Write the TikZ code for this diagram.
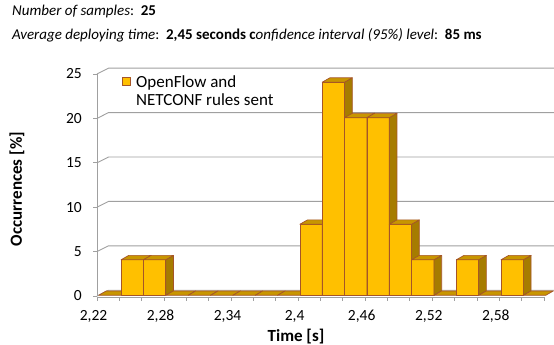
\documentclass[tikz,border=0pt]{standalone}
\usepackage{fontspec}
\setmainfont{Carlito}
\definecolor{barfront}{RGB}{255,192,0}
\definecolor{barside}{RGB}{166,124,0}
\definecolor{bartop}{RGB}{200,150,0}
\definecolor{baredge}{RGB}{165,85,40}
\definecolor{gridgray}{RGB}{160,160,160}
\tikzset{
  gridline/.style={draw=gridgray, line width=0.9pt},
  axisline/.style={draw=gridgray, line width=0.9pt},
  face/.style={draw=baredge, line width=0.7pt, line join=round},
  ticklabel/.style={font=\fontsize{15.5}{17}\selectfont, inner sep=0pt},
  axistitle/.style={font=\fontsize{17}{19}\selectfont\bfseries, inner sep=0pt},
  legendtext/.style={font=\fontsize{17}{17}\selectfont, inner sep=0pt, align=left},
  titletext/.style={font=\fontsize{15}{16}\selectfont, inner sep=0pt, anchor=base west}
}
\begin{document}
\begin{tikzpicture}[x=1pt,y=-1pt]
\useasboundingbox (0,0) rectangle (554,345);
% plot geometry
\def\xo{97}      % left edge of the floor
\def\cw{22.35}   % category width
\def\yf{296}     % zero level at the value axis
\def\vy{8.88}    % one percent
\def\yb{295.3}   % zero level of the columns
\def\dx{7.7}\def\dy{-4.4}   % column depth
\def\wx{11.5}\def\wy{-5.8}  % wall depth

% back wall gridlines with their side-wall segments
\foreach \v in {0,5,...,25}{
  \pgfmathsetmacro{\yy}{\yf-\v*\vy}
  \draw[gridline] (\xo,\yy) -- ++(\wx,\wy) -- (556,\yy+\wy);
  \draw[axisline] (\xo-4,\yy) -- (\xo,\yy);
  \node[ticklabel, anchor=east] (ylab\v) at (82,\yy) {\v};
}
% value axis
\draw[axisline] (\xo,\yf-25*\vy) -- (\xo,\yf);
% category axis with its ticks
\draw[axisline] (\xo,297) -- (\xo+20*\cw,297);
\foreach \i in {0,...,20}{
  \draw[axisline] (\xo+\i*\cw,297) -- (\xo+\i*\cw,300.5);
}
\foreach \i/\t in {0/{2,22},3/{2,28},6/{2,34},9/{2,4},12/{2,46},15/{2,52},18/{2,58}}{
  \node[ticklabel] (xlab\i) at (\xo+\i*\cw-3.5,316.5) {\t};
}

% columns, left to right so each one hides the side of the previous one
\foreach \v [count=\n from 0] in {0,4,4,0,0,0,0,0,0,8,24,20,20,8,4,0,4,0,4,0}{
  \pgfmathsetmacro{\xl}{\xo+\n*\cw+1.7}
  \pgfmathsetmacro{\xr}{\xl+\cw}
  \pgfmathsetmacro{\yt}{\yb-\v*\vy}
  \ifdim\v pt>0pt
    \fill[barfront] (\xl,\yb) rectangle (\xr,\yt);
    \draw[face] (\xl,\yb) rectangle (\xr,\yt);
    \filldraw[face, fill=barside] (\xr,\yb) -- ++(\dx,\dy) -- (\xr+\dx,\yt+\dy) -- (\xr,\yt) -- cycle;
  \fi
  \filldraw[face, fill=bartop] (\xl,\yt) -- ++(\dx,\dy) -- (\xr+\dx,\yt+\dy) -- (\xr,\yt) -- cycle;
}

% axis titles
\node[axistitle] (xtitle) at (296,337) {Time [s]};
\node[axistitle, rotate=90] (ytitle) at (17,189) {Occurrences [\%]};

% legend
\filldraw[face, fill=barfront] (122,77) rectangle (130.5,85.5);
\node[legendtext, anchor=base west] (leg1) at (136,88) {OpenFlow and};
\node[legendtext, anchor=base west] (leg2) at (136,105) {NETCONF rules sent};

% header lines
\node[titletext] (head1) at (12,16) {\textit{Number of samples}:\ \ \textbf{25}};
\node[titletext] (head2) at (12,40) {\textit{Average deploying time}:\ \ \textbf{2,45 seconds c}\textit{onfidence interval (95\%) level}:\ \ \textbf{85 ms}};
\end{tikzpicture}
\end{document}
